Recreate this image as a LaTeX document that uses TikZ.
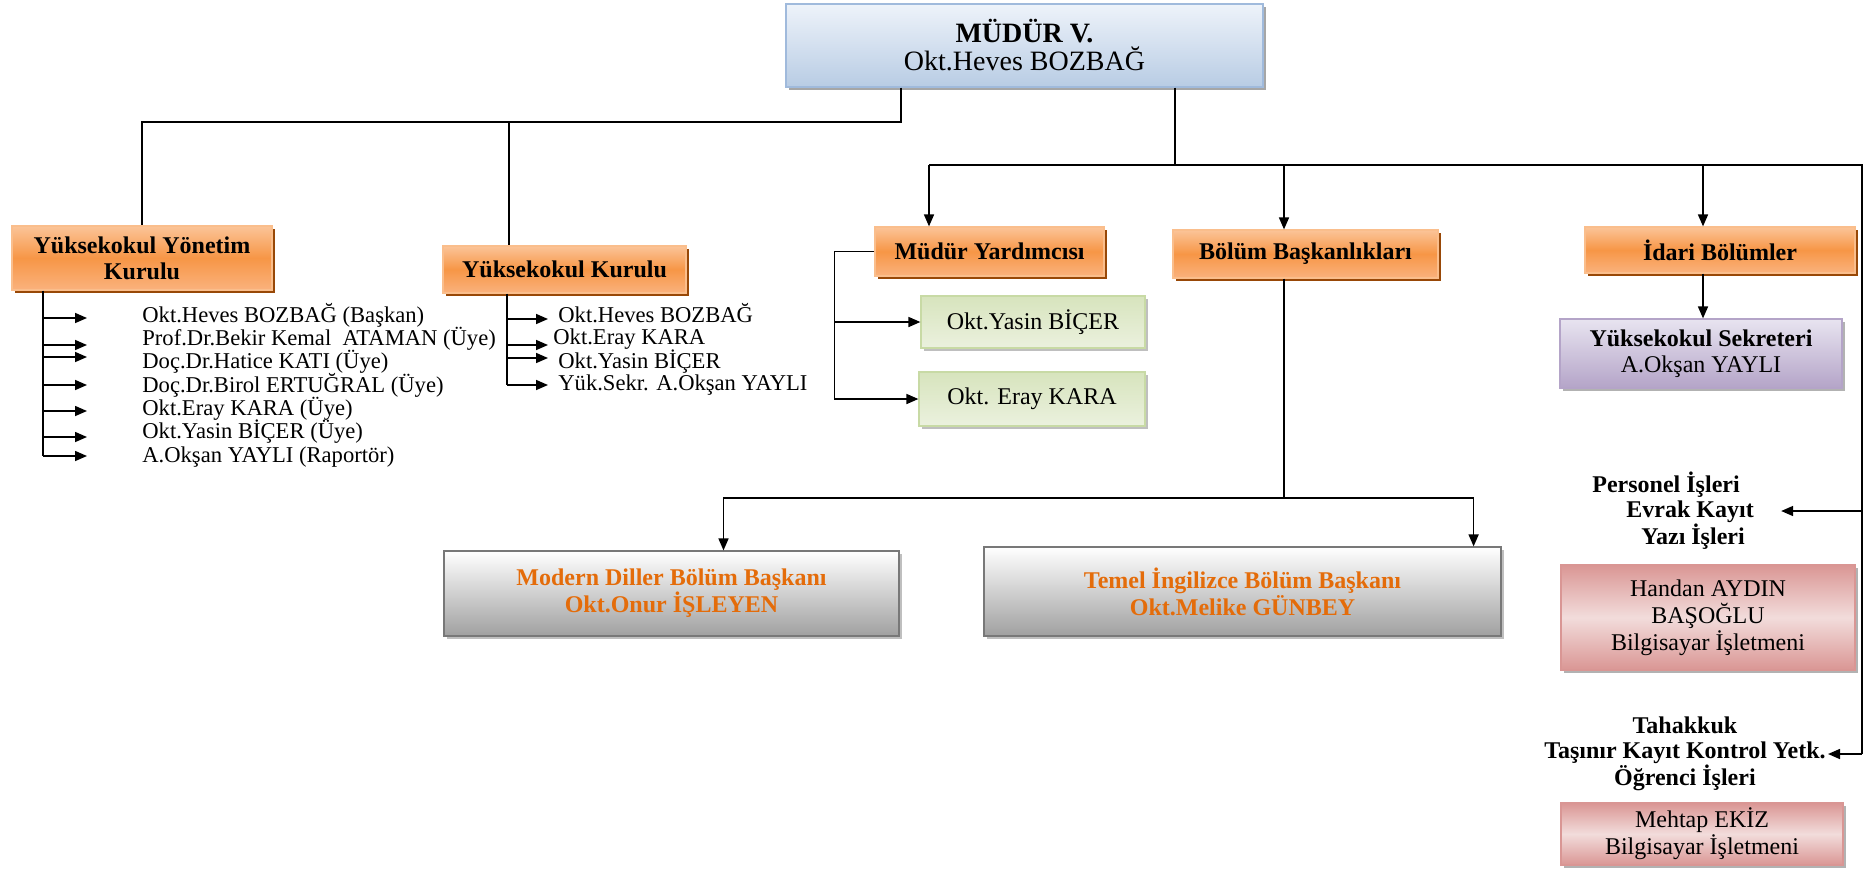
\documentclass[tikz,border=0pt]{standalone}
\usepackage{fontspec}
\setmainfont{Liberation Serif}
\usetikzlibrary{arrows.meta,shadows}

\definecolor{bluetop}{RGB}{238,243,250}
\definecolor{bluebot}{RGB}{184,204,228}
\definecolor{blueline}{RGB}{160,186,220}
\definecolor{orgtop}{RGB}{251,196,152}
\definecolor{orgmid}{RGB}{247,150,70}
\definecolor{orgbot}{RGB}{250,178,125}
\definecolor{orgline}{RGB}{250,190,140}
\definecolor{orgshadow}{RGB}{152,72,7}
\definecolor{grntop}{RGB}{215,228,189}
\definecolor{grnbot}{RGB}{235,241,222}
\definecolor{grnline}{RGB}{200,218,165}
\definecolor{purtop}{RGB}{232,228,240}
\definecolor{purbot}{RGB}{180,164,200}
\definecolor{purline}{RGB}{180,164,200}
\definecolor{grybot}{RGB}{160,160,160}
\definecolor{gryline}{RGB}{120,120,120}
\definecolor{pnkdark}{RGB}{218,150,148}
\definecolor{pnklight}{RGB}{242,220,219}
\definecolor{pnkline}{RGB}{217,150,148}
\definecolor{orgtext}{RGB}{228,108,10}

\tikzset{
	shd/.style={drop shadow={shadow xshift=1.5pt,shadow yshift=-1.5pt,opacity=1,fill=#1}},
	boxbase/.style={draw, line width=0.6pt, align=center, inner sep=2pt},
	topbox/.style={boxbase, draw=blueline, top color=bluetop, bottom color=bluebot, shd=black!35, font=\fontsize{14pt}{14pt}\selectfont},
	headbox/.style={boxbase, draw=orgline, top color=orgtop, bottom color=orgbot, middle color=orgmid, shd=orgshadow, font=\fontsize{12pt}{13pt}\selectfont\bfseries},
	grnbox/.style={boxbase, draw=grnline, top color=grntop, bottom color=grnbot, shd=black!25, font=\fontsize{12pt}{13pt}\selectfont},
	purbox/.style={boxbase, draw=purline, top color=purtop, bottom color=purbot, shd=black!30, font=\fontsize{12pt}{13pt}\selectfont},
	grybox/.style={boxbase, draw=gryline, top color=white, bottom color=grybot, shd=black!25, text=orgtext, font=\fontsize{12pt}{13.5pt}\selectfont\bfseries},
	pnkbox/.style={boxbase, draw=pnkline, top color=pnkdark, bottom color=pnkdark, middle color=pnklight, shd=black!30, font=\fontsize{12pt}{13.5pt}\selectfont},
	plaintxt/.style={align=center, inner sep=1pt, font=\fontsize{12pt}{12.2pt}\selectfont\bfseries},
	listtxt/.style={anchor=west, inner sep=0pt, text height=8pt, text depth=2.5pt, font=\fontsize{11.3pt}{12pt}\selectfont},
	ln/.style={line width=0.8pt},
	arr/.style={ln, -{Triangle[length=6pt,width=5pt]}},
}

\begin{document}
\begin{tikzpicture}[x=0.5pt,y=-0.5pt]
	\useasboundingbox (0,0) rectangle (1868,873);

	\node[topbox, minimum width=238.5pt, minimum height=41.5pt] (mudur) at (1024.5,45.5) {\textbf{MÜDÜR V.}\\Okt.Heves BOZBAĞ};

	\node[headbox, minimum width=130pt, minimum height=32pt] (ykyon) at (142,258) {Yüksekokul Yönetim\\Kurulu};
	\node[headbox, minimum width=121.5pt, minimum height=23.5pt] (ykkur) at (564.5,269.5) {Yüksekokul Kurulu};
	\node[headbox, minimum width=114.5pt, minimum height=24.5pt] (myard) at (989.5,251.5) {Müdür Yardımcısı};
	\node[headbox, minimum width=132.5pt, minimum height=24pt] (bolum) at (1305.5,254) {Bölüm Başkanlıkları};
	\node[headbox, minimum width=135pt, minimum height=23pt] (idari) at (1720,250) {İdari Bölümler};

	\node[grnbox, minimum width=112pt, minimum height=26pt] (yasin) at (1033,322) {Okt.Yasin BİÇER};
	\node[grnbox, minimum width=113pt, minimum height=27pt] (eray) at (1032,399) {Okt. Eray KARA};
	\node[purbox, minimum width=141pt, minimum height=34.5pt] (sekr) at (1701,353.5) {\textbf{Yüksekokul Sekreteri}\\A.Okşan YAYLI};

	\node[grybox, minimum width=227.5pt, minimum height=42.5pt] (modern) at (671.5,593.5) {Modern Diller Bölüm Başkanı\\Okt.Onur İŞLEYEN};
	\node[grybox, minimum width=258.5pt, minimum height=44.5pt] (temel) at (1242.5,591.5) {Temel İngilizce Bölüm Başkanı\\Okt.Melike GÜNBEY};

	\node[plaintxt, anchor=west, align=left] (personel) at (1590,511) {Personel İşleri\\\hspace*{17pt}Evrak Kayıt\\\hspace*{24.5pt}Yazı İşleri};
	\node[pnkbox, minimum width=147pt, minimum height=52.5pt] (handan) at (1708,617.5) {Handan AYDIN\\BAŞOĞLU\\Bilgisayar İşletmeni};
	\node[plaintxt, anchor=east] (tahakkuk) at (1828,754) {Tahakkuk\\Taşınır Kayıt Kontrol Yetk.\\Öğrenci İşleri};
	\node[pnkbox, minimum width=141pt, minimum height=31pt] (mehtap) at (1702,834) {Mehtap EKİZ\\Bilgisayar İşletmeni};

	\foreach \y/\t [count=\i] in {317/Okt.Heves BOZBAĞ (Başkan), 340/Prof.Dr.Bekir Kemal \ ATAMAN (Üye), 363/Doç.Dr.Hatice KATI (Üye), 387/Doç.Dr.Birol ERTUĞRAL (Üye), 410/Okt.Eray KARA (Üye), 433/Okt.Yasin BİÇER (Üye), 457/A.Okşan YAYLI (Raportör)}
		\node[listtxt] (yl\i) at (142,\y) {\t};
	\foreach \y/\x/\t [count=\i] in {317/558/Okt.Heves BOZBAĞ, 339/553/Okt.Eray KARA, 363/558/Okt.Yasin BİÇER, 385/558/Yük.Sekr. A.Okşan YAYLI}
		\node[listtxt] (kl\i) at (\x,\y) {\t};

	\coordinate (jl) at (901,122);
	\coordinate (jk) at (509,122);
	\draw[ln] (mudur.south -| jl) -- (jl) -- (jl -| ykyon.north) -- (ykyon.north);
	\draw[ln] (jk) -- (jk |- ykkur.north);

	\coordinate (ta) at (43,0);
	\foreach \y [count=\i] in {318,345,357,385,411,437,456}
		\coordinate (ya\i) at (87,\y);
	\draw[ln] (ta |- ykyon.south) -- (ta |- ya7);
	\foreach \i in {1,...,7}
		\draw[arr] (ta |- ya\i) -- (ya\i);

	\coordinate (tk) at (507,0);
	\foreach \y [count=\i] in {319,345,358,385}
		\coordinate (yk\i) at (548,\y);
	\draw[ln] (tk |- ykkur.south) -- (tk |- yk4);
	\foreach \i in {1,...,4}
		\draw[arr] (tk |- yk\i) -- (yk\i);

	\coordinate (jr) at (1175,165);
	\coordinate (hl) at (929,165);
	\coordinate (hb) at (1284,165);
	\coordinate (hi) at (1703,165);
	\coordinate (hr) at (1862,165);
	\coordinate (pt) at ([xshift=12.5pt]personel.east);
	\draw[ln] (mudur.south -| jr) -- (jr);
	\draw[ln] (hl) -- (hr) -- (hr |- tahakkuk.east);
	\draw[arr] (hl) -- (hl |- myard.north);
	\draw[arr] (hb) -- (hb |- bolum.north);
	\draw[arr] (hi) -- (hi |- idari.north);
	\draw[arr] (hi |- idari.south) -- (hi |- sekr.north);
	\draw[arr] (hr |- pt) -- (pt);
	\draw[arr] (hr |- tahakkuk.east) -- (tahakkuk.east);

	\draw[arr] (myard.west) -- ++(-20pt,0) |- (eray.west);
	\draw[arr] ([xshift=-20pt]myard.west) |- (yasin.west);

	\coordinate (jb) at (1284,498);
	\draw[ln] (hb |- bolum.south) -- (jb);
	\draw[arr] (jb) -| ([xshift=26pt]modern.north);
	\draw[arr] (jb) -| ([xshift=-14pt]temel.north east);
\end{tikzpicture}
\end{document}
